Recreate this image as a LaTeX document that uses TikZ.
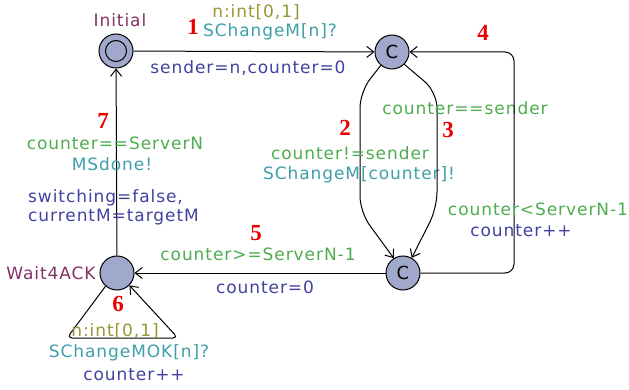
\documentclass[tikz,border=0pt]{standalone}
\usepackage{fontspec}
\setmainfont{DejaVu Sans}[LetterSpace=5.5]
\newfontfamily\numfont{Liberation Serif}
\usetikzlibrary{arrows.meta}
\definecolor{locname}{RGB}{130,50,100}
\definecolor{guardc}{RGB}{78,172,78}
\definecolor{syncc}{RGB}{62,158,170}
\definecolor{updc}{RGB}{66,66,158}
\definecolor{selc}{RGB}{150,150,50}
\definecolor{locfill}{RGB}{160,168,204}
\definecolor{numc}{RGB}{235,0,0}
\tikzset{
  loc/.style={circle,draw,line width=1pt,fill=locfill,minimum size=34pt,inner sep=0pt,
    font=\fontsize{18}{18}\selectfont},
  lbl/.style={inner sep=0pt,font=\fontsize{17}{19}\selectfont},
  guard/.style={lbl,text=guardc},
  sync/.style={lbl,text=syncc},
  upd/.style={lbl,text=updc},
  sel/.style={lbl,text=selc},
  lname/.style={lbl,text=locname},
  num/.style={inner sep=0pt,text=numc,font=\numfont\bfseries\fontsize{23}{23}\selectfont},
  trans/.style={line width=1pt,-{Straight Barb[length=7pt,width=11pt,line width=1pt]}},
}
\begin{document}
\begin{tikzpicture}[x=1pt,y=-1pt]
\useasboundingbox (0,0) rectangle (629,390);

% locations
\node[loc] (init) at (116,51) {};
\draw[line width=1pt] (init.center) circle (10.5pt);
\node[loc] (c1) at (392,52) {C};
\node[loc] (c2) at (403,273) {C};
\node[loc] (w4) at (117,273) {};

\node[lname] at (120,20) {Initial};
\node[lname] at (51,273) {Wait4ACK};

% 1: Initial -> c1
\draw[trans] (init) -- (c1);
\node[num] at (193,27) {1};
\node[sel] at (256,12) {n:int[0,1]};
\node[sync] at (270,32) {SChangeM[n]?};
\node[upd] at (248,68) {sender=n,counter=0};

% 2: c1 -> c2 (left branch)
\draw[trans,rounded corners=16pt] (c1.230) -- (360,92) -- (360,212) -- (c2.122);
\node[num] at (345,128) {2};
\node[guard] at (350,153) {counter!=sender};
\node[sync] at (359,175) {SChangeM[counter]!};

% 3: c1 -> c2 (right branch)
\draw[trans,rounded corners=16pt] (c1.315) -- (437,92) -- (437,208) -- (c2.60);
\node[num] at (448,130) {3};
\node[guard] at (465,108) {counter==sender};

% 4: c2 -> c1 around the right side
\draw[trans,rounded corners=9pt] (c2.east) -- (514,273) -- (514,52) -- (c1.east);
\node[num] at (483,33) {4};
\node[guard] at (538,209) {counter<ServerN-1};
\node[upd] at (521,231) {counter++};

% 5: c2 -> Wait4ACK
\draw[trans] (c2) -- (w4);
\node[num] at (256,233) {5};
\node[guard] at (258,254) {counter>=ServerN-1};
\node[upd] at (265,287) {counter=0};

% 6: self loop on Wait4ACK
\draw[trans,rounded corners=5pt] (w4.229) -- (67,338) -- (178,338) -- (w4.315);
\node[num] at (118,304) {6};
\node[sel] at (115,331) {n:int[0,1]};
\node[sync] at (129,353) {SChangeMOK[n]?};
\node[upd] at (134,375) {counter++};

% 7: Wait4ACK -> Initial
\draw[trans] (w4) -- (init);
\node[num] at (103,121) {7};
\node[guard] at (115,143) {counter==ServerN};
\node[sync] at (112,164) {MSdone!};
\node[upd,anchor=west] at (28,198) {switching=false,};
\node[upd,anchor=west] at (28,217) {currentM=targetM};
\end{tikzpicture}
\end{document}
